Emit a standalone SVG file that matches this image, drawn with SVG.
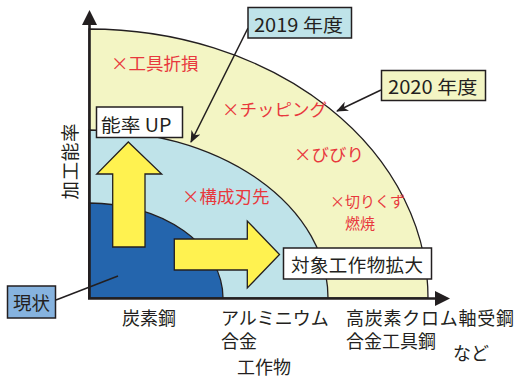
<svg xmlns="http://www.w3.org/2000/svg" width="517" height="378" viewBox="0 0 517 378">
<defs>
<style>
text{font-family:"Noto Sans CJK JP","Noto Sans",sans-serif;}
.k{fill:#231f20;font-size:18.5px;}
.ax{fill:#231f20;font-size:18px;}
.r{fill:#e8383d;font-size:17.5px;}
.rs{fill:#e8383d;font-size:15px;}
.box{stroke:#231f20;stroke-width:1.5;}
.arc{stroke:#231f20;stroke-width:1.3;}
.ya{fill:#fff250;stroke:#231f20;stroke-width:1.3;stroke-linejoin:miter;}
.ln{stroke:#231f20;stroke-width:1.5;fill:none;}
</style>
<marker id="ah" viewBox="0 0 12 10" refX="11" refY="5" markerWidth="12" markerHeight="10" markerUnits="userSpaceOnUse" orient="auto">
<path d="M0,0 L12,5 L0,10 L3.5,5 Z" fill="#231f20"/>
</marker>
</defs>
<rect width="517" height="378" fill="#ffffff"/>

<g id="regions">
<path id="r2020" class="arc" d="M89,298 L89,29 A339,269 0 0 1 428,298 Z" fill="#f3f5c4"/>
<path id="r2019" class="arc" d="M89,298 L89,130 A239,168 0 0 1 328,298 Z" fill="#bfe3e9"/>
<path id="rnow" class="arc" d="M89,298 L89,203 A134,95 0 0 1 223,298 Z" fill="#2465ad"/>
</g>

<g id="axes">
<line x1="89.5" y1="299" x2="89.5" y2="22" stroke="#231f20" stroke-width="2.6"/>
<polygon points="82,25 97,25 89.5,10" fill="#231f20"/>
<line x1="88" y1="298.5" x2="438" y2="298.5" stroke="#231f20" stroke-width="2.6"/>
<polygon points="435,291 435,306 450,298.5" fill="#231f20"/>
</g>

<g id="arrow-up">
<polygon class="ya" points="112.7,247 145,247 145,174 161.7,174 128.3,142 96.7,174 112.7,174"/>
</g>
<g id="arrow-right">
<polygon class="ya" points="174.3,239 247.3,239 247.3,221 279.5,254.5 247.3,288 247.3,270 174.3,270"/>
</g>

<g id="connectors">
<line class="ln" x1="248" y1="28" x2="191" y2="142" marker-end="url(#ah)"/>
<line class="ln" x1="381" y1="90" x2="337" y2="111" marker-end="url(#ah)"/>
<line class="ln" x1="56" y1="300" x2="118" y2="276" stroke-width="1.2"/>
</g>

<g id="box2019">
<rect class="box" x="248" y="7.5" width="103.5" height="30.5" fill="#bfe3e9"/>
<text class="k" x="254" y="31.5" textLength="89" lengthAdjust="spacingAndGlyphs">2019 年度</text>
</g>
<g id="box2020">
<rect class="box" x="381.5" y="70.5" width="104" height="30" fill="#f3f5c4"/>
<text class="k" x="388" y="94" textLength="89.5" lengthAdjust="spacingAndGlyphs">2020 年度</text>
</g>
<g id="boxUP">
<rect class="box" x="96.5" y="107" width="86" height="30.5" fill="#ffffff"/>
<text class="k" x="101" y="131.5" textLength="70.5" lengthAdjust="spacingAndGlyphs">能率 UP</text>
</g>
<g id="boxTarget">
<rect class="box" x="283.5" y="248" width="148" height="31" fill="#ffffff"/>
<text class="k" x="291" y="272" textLength="132" lengthAdjust="spacing">対象工作物拡大</text>
</g>
<g id="boxNow">
<rect class="box" x="7.5" y="286" width="48" height="32" fill="#86b3df"/>
<text class="k" x="13" y="309.5">現状</text>
</g>

<g id="labels-red">
<text class="r" x="111" y="70">×工具折損</text>
<text class="r" x="222" y="116">×チッピング</text>
<text class="r" x="294" y="161">×びびり</text>
<text class="r" x="182" y="203">×構成刃先</text>
<text class="rs" x="330" y="207">×切りくず</text>
<text class="rs" x="345" y="229">燃焼</text>
</g>

<g id="labels-axis">
<text class="k" transform="translate(76.5,161.5) rotate(-90)" text-anchor="middle" textLength="76" lengthAdjust="spacing">加工能率</text>
<text class="ax" x="122" y="324.5">炭素鋼</text>
<text class="ax" x="221" y="324.5">アルミニウム</text>
<text class="ax" x="221" y="348">合金</text>
<text class="ax" x="346" y="324.5" textLength="168" lengthAdjust="spacing">高炭素クロム軸受鋼</text>
<text class="ax" x="346" y="348">合金工具鋼</text>
<text class="ax" x="453" y="359.5">など</text>
<text class="ax" x="237" y="374">工作物</text>
</g>
</svg>
